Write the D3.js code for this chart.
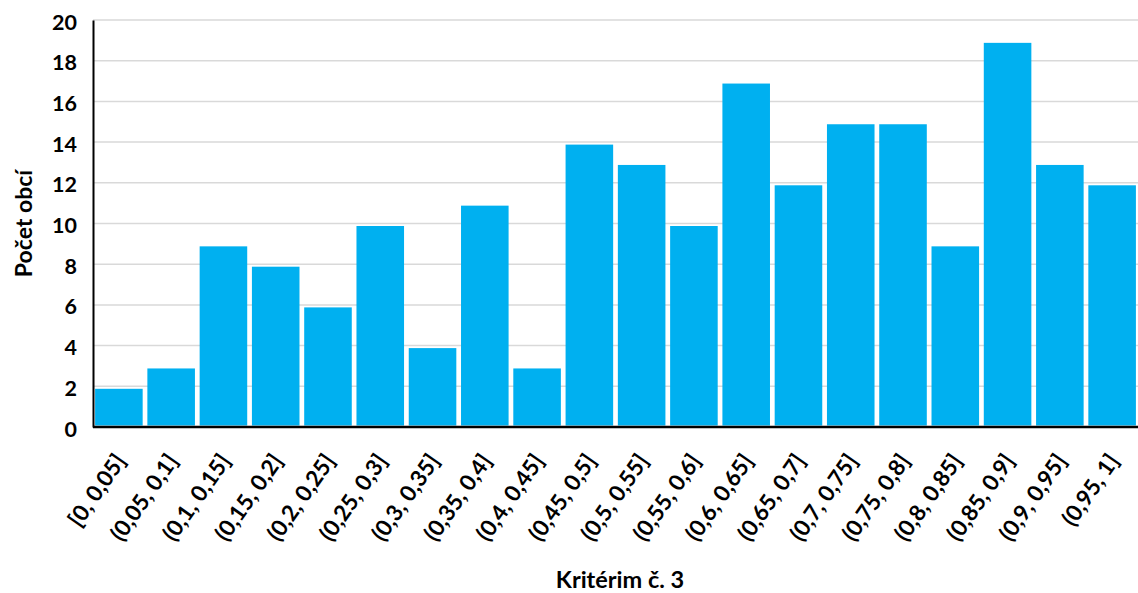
<!DOCTYPE html>
<html>
<head>
<meta charset="utf-8">
<script src="https://cdn.jsdelivr.net/npm/d3@7"></script>
<style>
  html, body { margin: 0; padding: 0; background: #fff; }
  text { font-family: Lato, "Open Sans", sans-serif; font-weight: bold; fill: #000; }
</style>
</head>
<body>
<svg id="chart" width="1138" height="593"></svg>
<script>
// Intervals of the criterion value and number of municipalities in each
const categories = ["[0, 0,05]", "(0,05, 0,1]", "(0,1, 0,15]", "(0,15, 0,2]", "(0,2, 0,25]",
  "(0,25, 0,3]", "(0,3, 0,35]", "(0,35, 0,4]", "(0,4, 0,45]", "(0,45, 0,5]",
  "(0,5, 0,55]", "(0,55, 0,6]", "(0,6, 0,65]", "(0,65, 0,7]", "(0,7, 0,75]",
  "(0,75, 0,8]", "(0,8, 0,85]", "(0,85, 0,9]", "(0,9, 0,95]", "(0,95, 1]"];
const counts = [2, 3, 9, 8, 6, 10, 4, 11, 3, 14, 13, 10, 17, 12, 15, 15, 9, 19, 13, 12];
const yTicks = [0, 2, 4, 6, 8, 10, 12, 14, 16, 18, 20];
const xTitle = "Kritérim č. 3";
const yTitle = "Počet obcí";

const svg = d3.select("#chart");
const margin = { left: 93, right: 0, top: 20, bottom: 166 };
const W = 1138, H = 593;

const x = d3.scaleBand().domain(categories)
  .range([margin.left, W - margin.right]).paddingInner(0.09).paddingOuter(0.04);
const y = d3.scaleLinear().domain([0, 20]).range([H - margin.bottom, margin.top]);

// horizontal gridlines
svg.append("g").selectAll("line").data(yTicks.filter(d => d > 0)).join("line")
  .attr("x1", margin.left).attr("x2", W - margin.right)
  .attr("y1", d => y(d)).attr("y2", d => y(d))
  .attr("stroke", "#d9d9d9").attr("stroke-width", 1.5);

// bars
svg.append("g").selectAll("rect").data(counts).join("rect")
  .attr("x", (d, i) => x(categories[i]))
  .attr("width", x.bandwidth())
  .attr("y", d => y(d) + 2.5)
  .attr("height", d => y(0) - y(d) - 4)
  .attr("fill", "#00b0f0");

// y axis
const yAxis = svg.append("g").attr("transform", `translate(${margin.left},0)`)
  .call(d3.axisLeft(y).tickValues(yTicks).tickSize(0).tickPadding(16));
yAxis.select(".domain").attr("stroke", "#000").attr("stroke-width", 2);
yAxis.selectAll("text").style("font-size", "21.5px").attr("dy", "0.42em");

// x axis
const xAxis = svg.append("g").attr("transform", `translate(0,${y(0)})`)
  .call(d3.axisBottom(x).tickSize(0).tickPadding(0));
xAxis.select(".domain").attr("stroke", "#000").attr("stroke-width", 2.5)
  .attr("d", `M${margin.left},0H${W}`);
xAxis.selectAll("text")
  .style("font-size", "22.5px")
  .attr("text-anchor", "end")
  .attr("dy", "0")
  .attr("y", 0)
  .attr("transform", "translate(8,34) rotate(-55)");

// axis titles
svg.append("text").attr("x", 620).attr("y", 588)
  .attr("text-anchor", "middle").style("font-size", "23.5px").text(xTitle);
svg.append("text")
  .attr("transform", `translate(32,${(y(0) + y(20)) / 2}) rotate(-90)`)
  .attr("text-anchor", "middle").style("font-size", "23px").text(yTitle);
</script>
</body>
</html>
